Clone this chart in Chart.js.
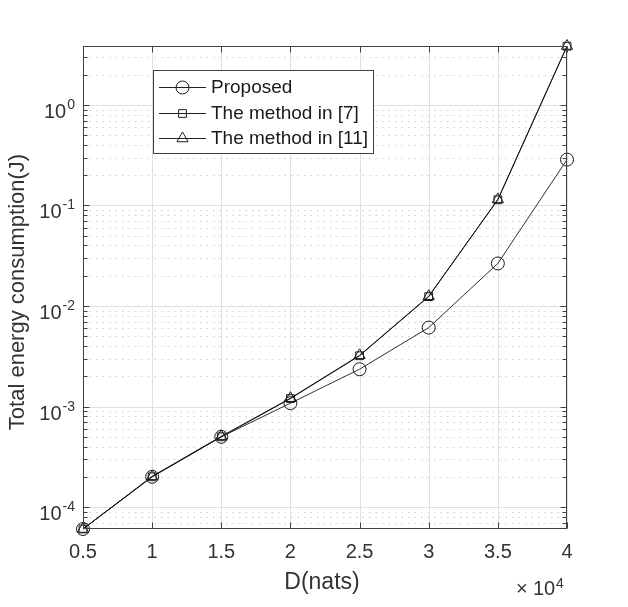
<!DOCTYPE html>
<html>
<head>
<meta charset="utf-8">
<script src="https://cdn.jsdelivr.net/npm/chart.js@4.4.1/dist/chart.umd.min.js"></script>
<style>
  html, body { margin: 0; padding: 0; background: #fff; }
  canvas { display: block; }
</style>
</head>
<body>
<canvas id="c" width="628" height="607"></canvas>
<script>
// data
const dNats = [5000, 10000, 15000, 20000, 25000, 30000, 35000, 40000];
const proposed = [6.05e-5, 2.0e-4, 5.0e-4, 1.08e-3, 2.35e-3, 6.1e-3, 2.65e-2, 0.286];
const method7 = [6.05e-5, 2.0e-4, 5.0e-4, 1.2e-3, 3.2e-3, 1.24e-2, 0.114, 3.84];
const method11 = [6.05e-5, 2.02e-4, 5.05e-4, 1.21e-3, 3.23e-3, 1.25e-2, 0.115, 3.86];
const seriesNames = ['Proposed', 'The method in [7]', 'The method in [11]'];

const xTicks = [5000, 10000, 15000, 20000, 25000, 30000, 35000, 40000];
const xTickLabels = ['0.5', '1', '1.5', '2', '2.5', '3', '3.5', '4'];
const yDecades = [-4, -3, -2, -1, 0];

const FONT = '"Liberation Sans", Arial, Helvetica, sans-serif';
const AXIS = '#404040';
const TEXT = '#333';

const matlabAxes = {
  id: 'matlabAxes',
  beforeDatasetsDraw(chart) {
    const { ctx, chartArea: a, scales: { x, y } } = chart;
    ctx.save();
    ctx.fillStyle = '#fff';
    ctx.fillRect(a.left, a.top, a.right - a.left, a.bottom - a.top);
    // y grid: decades solid, 2..9 dotted
    for (let e = -5; e <= 0; e++) {
      for (let k = 1; k <= 9; k++) {
        const v = k * Math.pow(10, e);
        if (v < y.min || v > y.max) continue;
        const py = Math.round(y.getPixelForValue(v)) + 0.5;
        ctx.beginPath();
        if (k === 1) { ctx.setLineDash([]); ctx.strokeStyle = '#e0e0e0'; }
        else { ctx.setLineDash([1.5, 5]); ctx.strokeStyle = '#cfcfcf'; }
        ctx.lineWidth = 1;
        ctx.moveTo(a.left, py); ctx.lineTo(a.right, py);
        ctx.stroke();
      }
    }
    ctx.setLineDash([]);
    ctx.strokeStyle = '#e0e0e0';
    xTicks.forEach(t => {
      const px = Math.round(x.getPixelForValue(t)) + 0.5;
      ctx.beginPath(); ctx.moveTo(px, a.top); ctx.lineTo(px, a.bottom); ctx.stroke();
    });
    ctx.restore();
  },
  afterDatasetsDraw(chart) {
    const { ctx, chartArea: a, scales: { x, y } } = chart;
    ctx.save();
    ctx.strokeStyle = AXIS;
    ctx.lineWidth = 1;
    const L = Math.round(a.left) + 0.5, R = Math.round(a.right) - 0.5;
    const T = Math.round(a.top) + 0.5, B = Math.round(a.bottom) - 0.5;
    ctx.strokeRect(L, T, R - L, B - T);
    // y ticks
    for (let e = -5; e <= 0; e++) {
      for (let k = 1; k <= 9; k++) {
        const v = k * Math.pow(10, e);
        if (v < y.min || v > y.max) continue;
        const py = Math.round(y.getPixelForValue(v)) + 0.5;
        const len = k === 1 ? 6 : 4;
        ctx.beginPath();
        ctx.moveTo(L, py); ctx.lineTo(L + len, py);
        ctx.moveTo(R, py); ctx.lineTo(R - len, py);
        ctx.stroke();
      }
    }
    xTicks.forEach(t => {
      const px = Math.round(x.getPixelForValue(t)) + 0.5;
      ctx.beginPath();
      ctx.moveTo(px, B); ctx.lineTo(px, B - 6);
      ctx.moveTo(px, T); ctx.lineTo(px, T + 6);
      ctx.stroke();
    });
    // x tick labels
    ctx.fillStyle = TEXT;
    ctx.font = '20px ' + FONT;
    ctx.textAlign = 'center';
    ctx.textBaseline = 'alphabetic';
    xTicks.forEach((t, i) => {
      ctx.fillText(xTickLabels[i], x.getPixelForValue(t), a.bottom + 29);
    });
    // y tick labels 10^n
    yDecades.forEach(e => {
      const py = y.getPixelForValue(Math.pow(10, e));
      const exp = String(e);
      ctx.font = '14px ' + FONT;
      const ew = ctx.measureText(exp).width;
      const right = a.left - 8;
      ctx.textAlign = 'left';
      ctx.fillText(exp, right - ew, py + 4);
      ctx.font = '20px ' + FONT;
      const bw = ctx.measureText('10').width;
      ctx.fillText('10', right - ew - bw - 1, py + 13);
    });
    // exponent multiplier
    ctx.font = '20px ' + FONT;
    ctx.textAlign = 'left';
    ctx.fillText('\u00d7', 516, 595);
    ctx.fillText('10', 533, 595);
    ctx.font = '14px ' + FONT;
    ctx.fillText('4', 556, 588);
    // axis titles
    ctx.font = '23px ' + FONT;
    ctx.textAlign = 'center';
    ctx.fillText('D(nats)', (a.left + a.right) / 2 - 3, 589);
    ctx.font = '22px ' + FONT;
    ctx.save();
    ctx.translate(24, 292);
    ctx.rotate(-Math.PI / 2);
    ctx.fillText('Total energy consumption(J)', 0, 0);
    ctx.restore();
    // legend
    const lx = 153.5, ly = 70.5, lw = 220, lh = 83;
    ctx.fillStyle = '#fff';
    ctx.fillRect(lx, ly, lw, lh);
    ctx.strokeStyle = AXIS;
    ctx.strokeRect(lx, ly, lw, lh);
    const rows = [87, 113, 138];
    const styles = ['circle', 'rect', 'triangle'];
    rows.forEach((ry, i) => {
      ctx.strokeStyle = '#222';
      ctx.lineWidth = 1;
      ctx.beginPath(); ctx.moveTo(159, ry + 0.5); ctx.lineTo(206, ry + 0.5); ctx.stroke();
      ctx.fillStyle = 'rgba(0,0,0,0)';
      Chart.helpers.drawPoint(ctx, { pointStyle: styles[i], radius: i === 1 ? 5.5 : 6.5, borderWidth: 1 }, 182.5, ry + 0.5);
      ctx.fillStyle = '#1a1a1a';
      ctx.font = '19px ' + FONT;
      ctx.textAlign = 'left';
      ctx.textBaseline = 'middle';
      ctx.fillText(seriesNames[i], 211, ry + 1);
    });
    ctx.restore();
  }
};

const ds = (label, data, style, radius, width) => ({
  label, data,
  borderColor: '#1a1a1a',
  backgroundColor: 'transparent',
  pointBorderColor: '#1a1a1a',
  pointBackgroundColor: 'transparent',
  pointStyle: style,
  pointRadius: radius,
  pointBorderWidth: 1,
  borderWidth: width,
  tension: 0,
  clip: false
});

new Chart(document.getElementById('c'), {
  type: 'line',
  data: {
    labels: dNats,
    datasets: [
      ds(seriesNames[0], proposed, 'circle', 6.5, 0.9),
      ds(seriesNames[1], method7, 'rect', 5.5, 1),
      ds(seriesNames[2], method11, 'triangle', 6.5, 1)
    ]
  },
  options: {
    responsive: false,
    animation: false,
    devicePixelRatio: 1,
    layout: { padding: { left: 83, right: 61, top: 46, bottom: 78 } },
    plugins: { legend: { display: false }, tooltip: { enabled: false } },
    scales: {
      x: { type: 'linear', min: 5000, max: 40000, display: false },
      y: { type: 'logarithmic', min: 6.05e-5, max: 3.86, display: false }
    }
  },
  plugins: [matlabAxes]
});
</script>
</body>
</html>
